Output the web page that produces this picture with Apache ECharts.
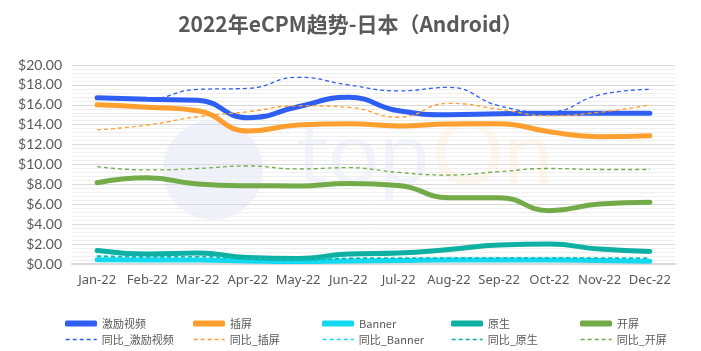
<!DOCTYPE html>
<html>
<head>
<meta charset="utf-8">
<script src="https://cdn.jsdelivr.net/npm/echarts@6/dist/echarts.min.js"></script>
<style>
  html, body { margin: 0; padding: 0; background: #fff; }
  #chart { width: 701px; height: 351px; }
</style>
</head>
<body>
<div id="chart"></div>
<script>
const months = ['Jan-22', 'Feb-22', 'Mar-22', 'Apr-22', 'May-22', 'Jun-22', 'Jul-22', 'Aug-22', 'Sep-22', 'Oct-22', 'Nov-22', 'Dec-22'];

const rewardedVideo = [16.7, 16.55, 16.45, 14.7, 15.8, 16.75, 15.4, 15.0, 15.1, 15.15, 15.15, 15.15];
const interstitial = [16.0, 15.75, 15.4, 13.37, 13.97, 14.1, 13.87, 14.07, 14.1, 13.3, 12.8, 12.9];
const banner = [0.43, 0.4, 0.4, 0.3, 0.25, 0.3, 0.35, 0.4, 0.4, 0.4, 0.35, 0.28];
const nativeAd = [1.35, 1.0, 1.1, 0.65, 0.55, 1.0, 1.1, 1.45, 1.9, 2.0, 1.5, 1.25];
const splash = [8.17, 8.67, 8.04, 7.87, 7.85, 8.1, 7.9, 6.67, 6.67, 5.36, 6.03, 6.2];

const yoyRewardedVideo = [16.6, 16.6, 17.55, 17.65, 18.76, 18.0, 17.4, 17.75, 15.9, 15.3, 17.0, 17.55];
const yoyInterstitial = [13.47, 13.97, 14.8, 15.3, 15.9, 15.75, 14.75, 16.15, 15.55, 14.9, 15.25, 16.0];
const yoyBanner = [0.85, 0.75, 0.75, 0.55, 0.45, 0.6, 0.6, 0.6, 0.62, 0.62, 0.6, 0.58];
const yoyNative = [0.75, 0.7, 0.72, 0.5, 0.4, 0.55, 0.6, 0.6, 0.6, 0.6, 0.6, 0.6];
const yoySplash = [9.78, 9.45, 9.6, 9.85, 9.55, 9.68, 9.2, 8.94, 9.28, 9.6, 9.5, 9.5];

const yTicks = [0, 2, 4, 6, 8, 10, 12, 14, 16, 18, 20];

const names = ['激励视频', '插屏', 'Banner', '原生', '开屏'];
const colors = ['#2f5ff2', '#ff9f2f', '#12d8f0', '#0db0a2', '#72ab48'];
const solidData = [rewardedVideo, interstitial, banner, nativeAd, splash];
const dashData = [yoyRewardedVideo, yoyInterstitial, yoyBanner, yoyNative, yoySplash];

const myChart = echarts.init(document.getElementById('chart'));

const series = [];
const legends = [];
const colLeft = [60, 188, 317, 446, 575];
const legendText = { fontSize: 11, color: '#595959', fontFamily: 'Noto Sans CJK SC' };
names.forEach(function (n, i) {
  series.push({
    name: n,
    type: 'line',
    smooth: true,
    symbol: 'none',
    z: 3,
    data: solidData[i],
    lineStyle: { color: colors[i], width: 5, cap: 'round' },
    itemStyle: { color: colors[i] }
  });
  series.push({
    name: '同比_' + n,
    type: 'line',
    smooth: true,
    symbol: 'none',
    z: 4,
    data: dashData[i],
    lineStyle: { color: colors[i], width: 1.3, type: [4, 3] },
    itemStyle: { color: colors[i] }
  });
  legends.push({
    data: [n],
    left: colLeft[i],
    top: 313,
    itemWidth: 32,
    itemHeight: 6,
    icon: 'roundRect',
    textStyle: legendText
  });
  // default line icon keeps the dashed line style; hide its centre dot
  legends.push({
    data: ['同比_' + n],
    left: colLeft[i],
    top: 329,
    itemWidth: 31,
    itemHeight: 10,
    itemStyle: { opacity: 0 },
    lineStyle: { width: 1.4 },
    textStyle: legendText
  });
});

const option = {
  backgroundColor: '#fff',
  animation: false,
  title: {
    text: '2022年eCPM趋势-日本（Android）',
    left: 'center',
    top: 9,
    textStyle: { fontSize: 21, fontWeight: 'bold', color: '#595959', fontFamily: 'Noto Sans CJK SC' }
  },
  graphic: [
    { type: 'circle', z: 0, shape: { cx: 213, cy: 170, r: 50 }, style: { fill: 'rgba(228,234,250,0.6)' } },
    { type: 'text', z: 0, left: 296, top: 110, style: { text: 'top', fontSize: 90, fontFamily: 'Lato', fill: 'rgba(210,220,248,0.3)' } },
    { type: 'text', z: 0, left: 432, top: 110, style: { text: 'On', fontSize: 90, fontFamily: 'Lato', fill: 'rgba(255,228,190,0.3)' } }
  ],
  legend: legends,
  grid: { left: 72, right: 26, top: 65, bottom: 87 },
  xAxis: {
    type: 'category',
    data: months,
    boundaryGap: true,
    axisTick: { show: false },
    axisLine: { lineStyle: { color: '#d9d9d9', width: 2 } },
    axisLabel: { color: '#595959', fontSize: 13, fontFamily: 'Noto Sans', margin: 10, interval: 0 }
  },
  yAxis: {
    type: 'value',
    min: yTicks[0],
    max: yTicks[yTicks.length - 1],
    interval: 2,
    axisLine: { show: false },
    axisTick: { show: false },
    axisLabel: {
      color: '#595959', fontSize: 14, fontFamily: 'Lato', margin: 10,
      formatter: function (v) { return '$' + v.toFixed(2); }
    },
    splitLine: { lineStyle: { color: '#d9d9d9', width: 1 } },
    minorTick: { show: false, splitNumber: 5 },
    minorSplitLine: { show: true, lineStyle: { color: '#efefef', width: 1 } }
  },
  series: series
};

myChart.setOption(option);
window.addEventListener('resize', function () { myChart.resize(); });
</script>
</body>
</html>
